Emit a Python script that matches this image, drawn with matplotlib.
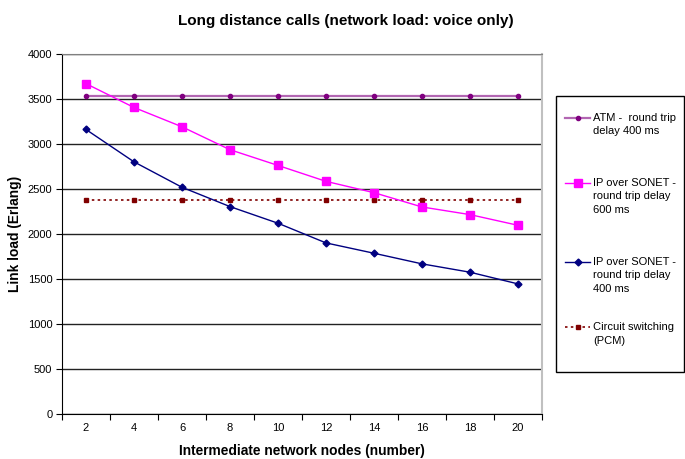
import matplotlib
matplotlib.use('Agg')
import matplotlib.pyplot as plt
from matplotlib.patches import Rectangle
import numpy as np

plt.rcParams['font.family'] = ['Liberation Sans', 'DejaVu Sans']

# intermediate network nodes
nodes = [2, 4, 6, 8, 10, 12, 14, 16, 18, 20]

atm_400 = [3535, 3535, 3535, 3535, 3535, 3535, 3535, 3535, 3535, 3535]
ip_600 = [3670, 3405, 3190, 2935, 2760, 2583, 2457, 2298, 2213, 2094]
ip_400 = [3160, 2800, 2517, 2302, 2117, 1898, 1783, 1665, 1572, 1442]
circuit = [2380, 2380, 2380, 2380, 2380, 2380, 2380, 2380, 2380, 2380]

# leading blank lines keep the handle level with the first text line
labels = ["\nATM -  round trip\ndelay 400 ms",
          "\n\nIP over SONET -\nround trip delay\n600 ms",
          "\n\nIP over SONET -\nround trip delay\n400 ms",
          "\nCircuit switching\n(PCM)"]

fig = plt.figure(figsize=(6.85, 4.59), dpi=100)
ax = fig.add_axes([62/685, 1-413.5/459, 480/685, (413.5-54)/459])

x = np.arange(len(nodes))
l1, = ax.plot(x, atm_400, color='#b266b2', lw=1.6, marker='o', ms=3,
              mfc='#800080', mec='#800080', zorder=3)
l2, = ax.plot(x, ip_600, color='#ff00ff', lw=1, marker='s', ms=5.5, zorder=4)
l3, = ax.plot(x, ip_400, color='#000080', lw=1, marker='D', ms=3.5, zorder=4)
l4, = ax.plot(x, circuit, color='#800000', lw=1.2, ls=(0, (1.5, 2)), marker='s',
              ms=3.5, zorder=3)

ax.set_xlim(-0.5, len(nodes) - 0.5)
ax.set_ylim(0, 4000)
ax.set_yticks(np.arange(0, 4001, 500))
ax.yaxis.grid(True, color='#222222', lw=1)
ax.set_axisbelow(True)

# category axis: ticks between categories, labels in the middle
ax.set_xticks(np.arange(-0.5, len(nodes), 1))
ax.set_xticklabels([])
ax.set_xticks(x, minor=True)
ax.set_xticklabels([str(n) for n in nodes], minor=True)
ax.tick_params(axis='x', which='major', length=4, direction='out', color='black')
ax.tick_params(axis='x', which='minor', length=0, pad=7, labelsize=8)
ax.tick_params(axis='y', length=4, direction='out', labelsize=8, pad=3)

ax.spines['top'].set_color('#808080')
ax.spines['right'].set_color('#c0c0c0')
ax.spines['right'].set_linewidth(1.5)

ax.set_xlabel('Intermediate network nodes (number)', fontsize=9.9,
              fontweight='bold', labelpad=8)
ax.set_ylabel('Link load (Erlang)', fontsize=9.9, fontweight='bold', labelpad=4)
fig.text(346/685, 1-21/459, 'Long distance calls (network load: voice only)',
         ha='center', va='center', fontsize=11, fontweight='bold')

leg = fig.legend([l1, l2, l3, l4], labels, loc='upper left',
                 bbox_to_anchor=(565/685, 1-99/459), fontsize=8,
                 labelspacing=1.3, handlelength=2.25, handletextpad=0.3,
                 borderpad=0, borderaxespad=0, frameon=False)
for t in leg.get_texts():
    t.set_linespacing(1.45)

# legend box
fig.patches.append(Rectangle((556/685, 1-372/459), 128/685, 276/459,
                             transform=fig.transFigure, fill=False,
                             edgecolor='black', lw=1))

fig.savefig('out.png', dpi=100)
